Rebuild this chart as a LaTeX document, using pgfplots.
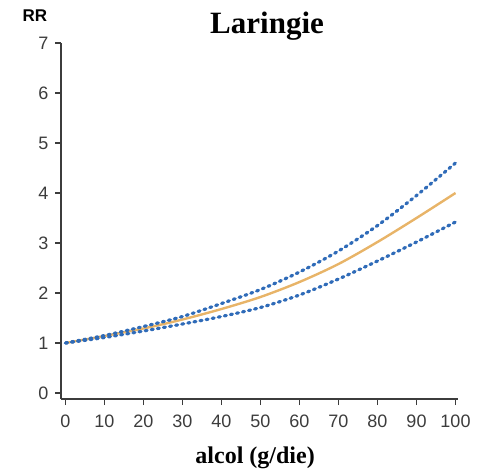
\documentclass[border=0pt]{standalone}
\usepackage{pgfplots}
\pgfplotsset{compat=1.18}
\usepackage{pgfplotstable}
\usepackage{fontspec}
\setmainfont{Liberation Serif}
\setsansfont{Liberation Sans}
\usetikzlibrary{calc}

\definecolor{ciblue}{HTML}{2F6BB8}
\definecolor{rrorange}{HTML}{E8B468}
\definecolor{axgray}{HTML}{3C3C3C}

% RR with 95% CI
\pgfplotstableread{
x    rr    up    lo
0    1.00  1.00  1.00
10   1.14  1.15  1.11
20   1.29  1.33  1.24
30   1.47  1.53  1.38
40   1.68  1.79  1.53
50   1.92  2.07  1.71
60   2.22  2.42  1.96
70   2.58  2.84  2.28
80   3.02  3.35  2.64
90   3.50  3.95  3.02
100  4.00  4.60  3.42
}\rrdata

\begin{document}
\begin{tikzpicture}
\begin{axis}[
  scale only axis,
  width=397pt, height=356pt,
  xmin=-1.15, xmax=100.64,
  ymin=-0.12, ymax=7,
  axis x line*=bottom, axis y line*=left,
  axis line style={axgray, line width=2pt, -},
  xtick={0,10,...,100}, ytick={0,1,...,7},
  tick align=outside, major tick length=6pt,
  tick style={axgray, line width=1.6pt},
  ticklabel style={font=\sffamily\fontsize{18}{18}\selectfont, text=axgray},
  xticklabel style={yshift=-6pt},
  yticklabel style={xshift=-3pt},
  /pgf/number format/assume math mode=true,
  title={Laringie},
  title style={font=\bfseries\fontsize{31}{31}\selectfont,
    at={(axis description cs:0.519,1)}, anchor=base, yshift=3pt},
  xlabel={alcol (g/die)},
  xlabel style={font=\bfseries\fontsize{24}{24}\selectfont,
    at={(axis description cs:0.489,0)}, anchor=base, yshift=-64pt},
  ylabel={RR},
  ylabel style={font=\sffamily\bfseries\fontsize{17}{17}\selectfont, rotate=-90,
    at={(axis description cs:0,1)}, anchor=base, xshift=-26pt, yshift=21pt},
]
\addplot[rrorange, line width=2.4pt, smooth] table[x=x, y=rr] {\rrdata};
\addplot[ciblue, line width=3.2pt, line cap=round, dash pattern=on 2pt off 4.2pt, smooth] table[x=x, y=up] {\rrdata};
\addplot[ciblue, line width=3.2pt, line cap=round, dash pattern=on 2pt off 4.2pt, smooth] table[x=x, y=lo] {\rrdata};
\coordinate (bl) at (rel axis cs:0,0);
\coordinate (tr) at (rel axis cs:1,1);
\end{axis}
\pgfresetboundingbox
\path ($(bl)+(-61pt,-73pt)$) rectangle ($(tr)+(29pt,43pt)$);
\end{tikzpicture}
\end{document}
